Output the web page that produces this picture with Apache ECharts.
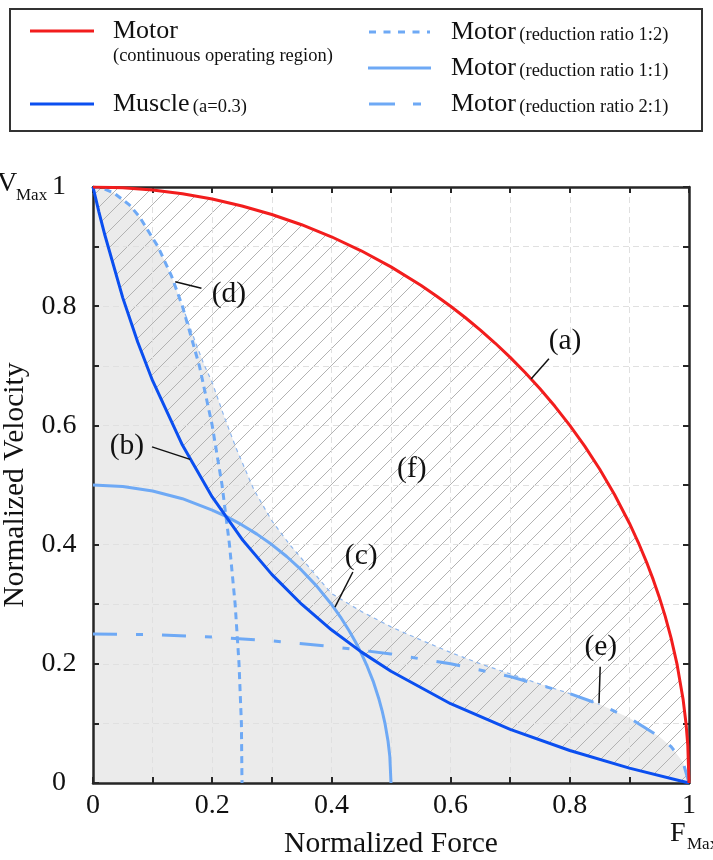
<!DOCTYPE html>
<html>
<head>
<meta charset="utf-8">
<script src="https://cdn.jsdelivr.net/npm/echarts@6/dist/echarts.min.js"></script>
<style>
    html, body { margin: 0; padding: 0; background: #fff; }
    #chart { width: 713px; height: 860px; }
</style>
</head>
<body>
<div id="chart"></div>
<script>
    // curves, [normalized force, normalized velocity]
    var motorRated = [[0, 1], [0.05, 0.9987], [0.1, 0.995], [0.15, 0.9887], [0.2, 0.9798], [0.25, 0.9682],
        [0.3, 0.9539], [0.35, 0.9367], [0.4, 0.9165], [0.45, 0.893], [0.5, 0.866], [0.55, 0.8352],
        [0.575, 0.8181], [0.6, 0.8], [0.625, 0.7806], [0.65, 0.7599], [0.675, 0.7378], [0.7, 0.7141],
        [0.725, 0.6887], [0.75, 0.6614], [0.775, 0.632], [0.8, 0.6], [0.825, 0.5652], [0.85, 0.5268],
        [0.875, 0.4841], [0.9, 0.4359], [0.915, 0.4035], [0.93, 0.3676], [0.94, 0.3412], [0.95, 0.3122],
        [0.96, 0.28], [0.97, 0.2431], [0.98, 0.199], [0.99, 0.1411], [0.995, 0.0999], [0.998, 0.0632], [1, 0]];
    var muscle = [[0, 1], [0.01, 0.958], [0.02, 0.919], [0.05, 0.814], [0.075, 0.74], [0.1, 0.675],
        [0.15, 0.567], [0.2, 0.48], [0.25, 0.409], [0.3, 0.35], [0.35, 0.3], [0.4, 0.257],
        [0.45, 0.22], [0.5, 0.1875], [0.6, 0.133], [0.7, 0.09], [0.8, 0.0545], [0.9, 0.025], [1, 0]];
    var ratio12 = [[0, 1], [0.0158, 0.998], [0.035, 0.99], [0.061, 0.97], [0.078, 0.95], [0.109, 0.9],
        [0.132, 0.85], [0.15, 0.8], [0.1785, 0.7], [0.2, 0.6], [0.2165, 0.5], [0.229, 0.4],
        [0.2385, 0.3], [0.245, 0.2], [0.249, 0.1], [0.25, 0]];
    var ratio11 = [[0, 0.5], [0.05, 0.4975], [0.1, 0.49], [0.15, 0.477], [0.2, 0.458], [0.225, 0.4465],
        [0.25, 0.433], [0.275, 0.4176], [0.3, 0.4], [0.325, 0.38], [0.35, 0.357], [0.375, 0.3307],
        [0.4, 0.3], [0.415, 0.2789], [0.43, 0.255], [0.44, 0.2375], [0.45, 0.218], [0.46, 0.196],
        [0.47, 0.171], [0.48, 0.14], [0.485, 0.1216], [0.49, 0.0995], [0.495, 0.0705], [0.498, 0.0447], [0.5, 0]];
    var ratio21 = [[0, 0.25], [0.1, 0.249], [0.2, 0.245], [0.3, 0.2385], [0.4, 0.229], [0.5, 0.2165],
        [0.6, 0.2], [0.7, 0.1785], [0.8, 0.15], [0.85, 0.132], [0.9, 0.109], [0.95, 0.078],
        [0.97, 0.061], [0.99, 0.035], [1, 0]];
    // upper envelope of all reduction ratios (grey region)
    var envelope = [[0, 1], [0.0158, 0.998], [0.035, 0.99], [0.061, 0.97], [0.078, 0.95], [0.109, 0.9],
        [0.132, 0.85], [0.15, 0.8], [0.168, 0.75], [0.185, 0.705], [0.2, 0.672], [0.22, 0.615],
        [0.24, 0.562], [0.27, 0.492], [0.3, 0.44], [0.33, 0.4], [0.36, 0.365], [0.4, 0.318],
        [0.45, 0.288], [0.5, 0.262], [0.55, 0.24], [0.6, 0.219], [0.65, 0.2], [0.7, 0.183],
        [0.75, 0.166], [0.8, 0.15], [0.85, 0.132], [0.9, 0.109], [0.95, 0.078], [0.97, 0.061],
        [0.99, 0.035], [1, 0]];

    var annotNames = ['(a)', '(b)', '(c)', '(d)', '(e)', '(f)'];
    var annotText = [[0.792, 0.742], [0.057, 0.565], [0.45, 0.38], [0.228, 0.82], [0.852, 0.228], [0.535, 0.526]];
    var annotFrom = [[0.735, 0.678], [0.099, 0.564], [0.406, 0.295], [0.138, 0.841], [0.849, 0.134], null];
    var annotTo = [[0.765, 0.712], [0.163, 0.543], [0.436, 0.354], [0.182, 0.83], [0.851, 0.195], null];

    var serif = "'Liberation Serif', 'Times New Roman', serif";
    var red = '#f21d1d';
    var blue = '#0b4ff0';
    var lightBlue = '#6ea9f5';
    var axisColor = '#262626';

    function hatch() {
        var s = 17;
        var c = document.createElement('canvas');
        c.width = s;
        c.height = s;
        var ctx = c.getContext('2d');
        ctx.strokeStyle = '#b2b2b2';
        ctx.lineWidth = 1;
        ctx.beginPath();
        ctx.moveTo(-2, s + 2); ctx.lineTo(s + 2, -2);
        ctx.moveTo(-2, 2); ctx.lineTo(2, -2);
        ctx.moveTo(s - 2, s + 2); ctx.lineTo(s + 2, s - 2);
        ctx.stroke();
        return c;
    }

    function polygon(points, fill, z) {
        return {
            type: 'custom',
            z: z,
            silent: true,
            data: [[0, 0]],
            renderItem: function (params, api) {
                return {
                    type: 'polygon',
                    shape: { points: points.map(function (p) { return api.coord(p); }) },
                    style: { fill: fill }
                };
            }
        };
    }

    function curve(data, color, width, dash, z) {
        return {
            type: 'line',
            data: data,
            z: z || 3,
            showSymbol: false,
            silent: true,
            lineStyle: { color: color, width: width, type: dash || 'solid' }
        };
    }

    var greyRegion = envelope.concat([[0, 0]]);
    var hatchRegion = motorRated.concat(muscle.slice().reverse());

    var tickX = {
        type: 'value', min: 0, max: 1, interval: 0.1, z: 1,
        axisLine: { show: true, onZero: false, lineStyle: { color: axisColor, width: 2.5 } },
        axisTick: { inside: true, length: 6, lineStyle: { color: axisColor, width: 2 } }
    };
    function fmt(v) {
        var k = Math.round(v * 10);
        if (k % 2) return '';
        return k === 0 ? '0' : (k === 10 ? '1' : (k / 10).toFixed(1));
    }

    var small = 18.5;
    var legendRich = {
        b: { fontFamily: serif, fontSize: 26, lineHeight: 26, verticalAlign: 'bottom', fill: '#111' },
        s: { fontFamily: serif, fontSize: small, lineHeight: small, verticalAlign: 'bottom', fill: '#111' }
    };

    var chart = echarts.init(document.getElementById('chart'));
    chart.setOption({
        animation: false,
        grid: { left: 93, right: 24, top: 187, bottom: 77, containLabel: false, outerBoundsMode: 'none' },
        xAxis: [
            Object.assign({}, tickX, {
                position: 'bottom',
                name: 'Normalized Force', nameLocation: 'middle', nameGap: 46,
                nameTextStyle: { fontFamily: serif, fontSize: 29.5, color: '#111' },
                axisLabel: { formatter: fmt, fontFamily: serif, fontSize: 28, color: '#111', margin: 9 },
                splitLine: { show: true, lineStyle: { color: '#e0e0e0', width: 1, type: [6, 4] } }
            }),
            Object.assign({}, tickX, { position: 'top', axisLabel: { show: false }, splitLine: { show: false } })
        ],
        yAxis: [
            Object.assign({}, tickX, {
                position: 'left',
                name: 'Normalized Velocity', nameLocation: 'middle', nameGap: 60,
                nameTextStyle: { fontFamily: serif, fontSize: 29.5, color: '#111' },
                axisLabel: { formatter: fmt, fontFamily: serif, fontSize: 28, color: '#111', margin: 34, align: 'center' },
                splitLine: { show: true, lineStyle: { color: '#e0e0e0', width: 1, type: [6, 4] } }
            }),
            Object.assign({}, tickX, { position: 'right', axisLabel: { show: false }, splitLine: { show: false } })
        ],
        series: [
            polygon(greyRegion, '#ebebeb', 0),
            polygon(hatchRegion, { image: hatch(), repeat: 'repeat' }, 0),
            curve(envelope.slice(7, 27), '#8db6ee', 1.2, [4, 4], 2),
            curve(ratio21, lightBlue, 3, [24, 19, 7, 19]),
            curve(ratio12, lightBlue, 3, [7, 5]),
            curve(ratio11, lightBlue, 3),
            curve(muscle, blue, 3),
            curve(motorRated, red, 3),
            {
                type: 'custom',
                z: 5,
                silent: true,
                data: annotText.map(function (p, i) { return [p[0], p[1], i]; }),
                renderItem: function (params, api) {
                    var i = api.value(2);
                    var pt = api.coord([api.value(0), api.value(1)]);
                    var children = [{
                        type: 'text',
                        style: {
                            text: annotNames[i], x: pt[0], y: pt[1], align: 'center', verticalAlign: 'middle',
                            fontFamily: serif, fontSize: 29.5, fill: '#111'
                        }
                    }];
                    if (annotFrom[i]) {
                        var a = api.coord(annotFrom[i]);
                        var b = api.coord(annotTo[i]);
                        children.push({
                            type: 'line',
                            shape: { x1: a[0], y1: a[1], x2: b[0], y2: b[1] },
                            style: { stroke: '#111', lineWidth: 1.5 }
                        });
                    }
                    return { type: 'group', children: children };
                }
            }
        ],
        graphic: [
            { type: 'rect', shape: { x: 10, y: 9, width: 692, height: 122 }, style: { fill: '#fff', stroke: '#333', lineWidth: 2 } },
            { type: 'line', shape: { x1: 30, y1: 31, x2: 94, y2: 31 }, style: { stroke: red, lineWidth: 3 } },
            { type: 'line', shape: { x1: 30, y1: 104, x2: 94, y2: 104 }, style: { stroke: blue, lineWidth: 3 } },
            { type: 'line', shape: { x1: 369, y1: 32, x2: 430, y2: 32 }, style: { stroke: lightBlue, lineWidth: 3, lineDash: [7, 7.5] } },
            { type: 'line', shape: { x1: 368, y1: 68, x2: 431, y2: 68 }, style: { stroke: lightBlue, lineWidth: 3 } },
            { type: 'line', shape: { x1: 369, y1: 104, x2: 431, y2: 104 }, style: { stroke: lightBlue, lineWidth: 3, lineDash: [26, 18, 8, 18] } },
            { type: 'text', style: { text: 'Motor', x: 113, y: 31, verticalAlign: 'middle', font: "26px 'Liberation Serif'", fontFamily: serif, fontSize: 26, fill: '#111' } },
            { type: 'text', style: { text: '(continuous operating region)', x: 113, y: 56, verticalAlign: 'middle', font: "18.5px 'Liberation Serif'", fontFamily: serif, fontSize: small, fill: '#111' } },
            {
                type: 'text',
                style: { text: '{b|Muscle} {s|(a=0.3)}', x: 113, y: 104, verticalAlign: 'middle', rich: legendRich }
            },
            {
                type: 'group',
                children: ['1:2', '1:1', '2:1'].map(function (r, i) {
                    return {
                        type: 'text',
                        style: {
                            text: '{b|Motor} {s|(reduction ratio ' + r + ')}', x: 451, y: 32 + i * 36,
                            verticalAlign: 'middle', rich: legendRich
                        }
                    };
                })
            },
            { type: 'text', style: { text: 'V', x: -3, y: 184, verticalAlign: 'middle', fontFamily: serif, fontSize: 28, fill: '#111' } },
            { type: 'text', style: { text: 'Max', x: 16, y: 196, verticalAlign: 'middle', fontFamily: serif, fontSize: 17, fill: '#111' } },
            { type: 'text', style: { text: 'F', x: 670, y: 834, verticalAlign: 'middle', fontFamily: serif, fontSize: 28, fill: '#111' } },
            { type: 'text', style: { text: 'Max', x: 687, y: 845, verticalAlign: 'middle', fontFamily: serif, fontSize: 17, fill: '#111' } }
        ]
    });
</script>
</body>
</html>
